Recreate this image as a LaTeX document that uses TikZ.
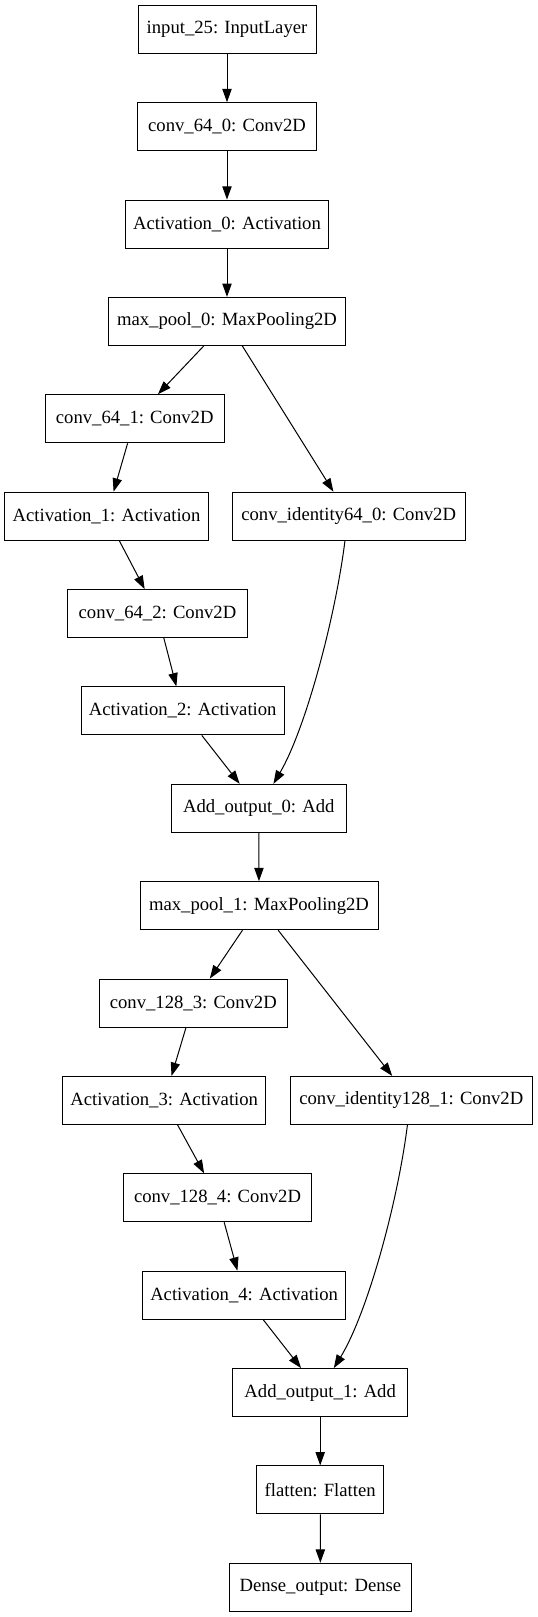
\documentclass[tikz,border=0pt]{standalone}
\usepackage{fontspec}
\setmainfont{Liberation Serif}
\usetikzlibrary{arrows.meta}
\tikzset{
  layer/.style={draw=black, line width=0.75pt, minimum height=36pt, inner xsep=2pt, inner ysep=0pt,
    font=\fontsize{14}{16}\selectfont, fill=white},
  edge/.style={line width=0.75pt, -{Triangle[length=10pt,width=7pt]}}
}
\begin{document}
\begin{tikzpicture}[x=0.75pt,y=-0.75pt]
\useasboundingbox (0,0) rectangle (537,1617);
\node[layer, minimum width=133.5pt] (in) at (227,29.3) {input\_25: InputLayer};
\node[layer, minimum width=134.5pt] (c640) at (227,126.7) {conv\_64\_0: Conv2D};
\node[layer, minimum width=152.5pt] (a0) at (227,224.1) {Activation\_0: Activation};
\node[layer, minimum width=178.3pt] (mp0) at (227,321.4) {max\_pool\_0: MaxPooling2D};
\node[layer, minimum width=134.5pt] (c641) at (134.7,418.8) {conv\_64\_1: Conv2D};
\node[layer, minimum width=152.5pt] (a1) at (106.5,516.2) {Activation\_1: Activation};
\node[layer, minimum width=174.8pt] (cid0) at (348.7,516.2) {conv\_identity64\_0: Conv2D};
\node[layer, minimum width=134.5pt] (c642) at (157.5,613.6) {conv\_64\_2: Conv2D};
\node[layer, minimum width=152.5pt] (a2) at (182.7,710.9) {Activation\_2: Activation};
\node[layer, minimum width=131.5pt] (add0) at (258.8,808.3) {Add\_output\_0: Add};
\node[layer, minimum width=178.5pt] (mp1) at (259,905.7) {max\_pool\_1: MaxPooling2D};
\node[layer, minimum width=140.6pt] (c1283) at (193.3,1003.1) {conv\_128\_3: Conv2D};
\node[layer, minimum width=152.5pt] (a3) at (164.2,1100.4) {Activation\_3: Activation};
\node[layer, minimum width=181.6pt] (cid1) at (411.3,1100.4) {conv\_identity128\_1: Conv2D};
\node[layer, minimum width=140.6pt] (c1284) at (217.5,1197.8) {conv\_128\_4: Conv2D};
\node[layer, minimum width=152.5pt] (a4) at (244.1,1295.2) {Activation\_4: Activation};
\node[layer, minimum width=131.5pt] (add1) at (320.2,1392.6) {Add\_output\_1: Add};
\node[layer, minimum width=94.9pt] (fl) at (320.2,1489.9) {flatten: Flatten};
\node[layer, minimum width=136.4pt] (dn) at (320.4,1587.3) {Dense\_output: Dense};

\draw[edge] (in) -- (c640);
\draw[edge] (c640) -- (a0);
\draw[edge] (a0) -- (mp0);
\draw[edge] (mp0) -- (c641);
\draw[edge] (mp0) -- (cid0);
\draw[edge] (c641) -- (a1);
\draw[edge] (a1) -- (c642);
\draw[edge] (c642) -- (a2);
\draw[edge] (a2) -- (add0);
\draw[edge] ([xshift=-2.8pt]cid0.south) .. controls (335,620) and (305,730) .. ([xshift=11pt]add0.north);
\draw[edge] (add0) -- (mp1);
\draw[edge] (mp1) -- (c1283);
\draw[edge] (mp1) -- (cid1);
\draw[edge] (c1283) -- (a3);
\draw[edge] (a3) -- (c1284);
\draw[edge] (c1284) -- (a4);
\draw[edge] (a4) -- (add1);
\draw[edge] ([xshift=-2.9pt]cid1.south) .. controls (397.5,1204) and (367,1314) .. ([xshift=10.2pt]add1.north);
\draw[edge] (add1) -- (fl);
\draw[edge] (fl) -- (dn);
\end{tikzpicture}
\end{document}
